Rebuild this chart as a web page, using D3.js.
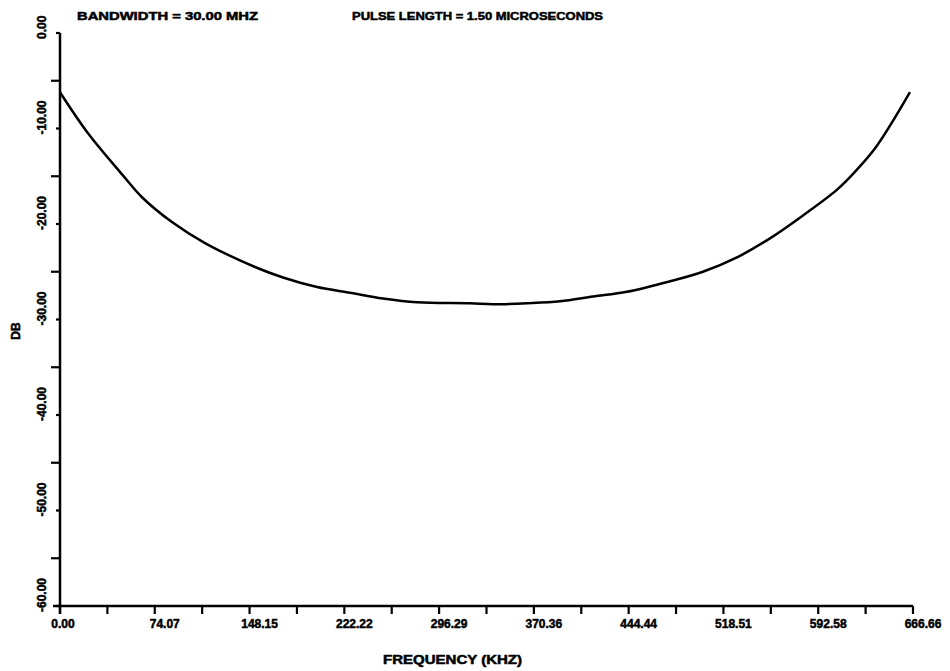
<!DOCTYPE html>
<html>
<head>
<meta charset="utf-8">
<script src="https://cdn.jsdelivr.net/npm/d3@7"></script>
<style>
  body { margin: 0; background: #fff; }
  text { font-family: "Liberation Sans", Arial, sans-serif; font-weight: bold; fill: #000; stroke: #000; stroke-width: 0.5px; }
</style>
</head>
<body>
<script>
const width = 950;
const height = 671;
const margin = {top: 33, right: 37, bottom: 65, left: 60};

// frequency (kHz) and level (dB)
const freq = [0, 21.9, 48.5, 64.1, 87.5, 113.3, 152.4, 174.3, 200.9, 226.6, 252.4, 279.0,
  320.4, 338.4, 365.0, 390.8, 416.6, 443.1, 476.8, 502.5, 529.1, 554.9, 580.7, 607.3, 622.9, 638.5, 664.3];
const db = [-6.2, -10.5, -14.8, -17.2, -19.8, -22.0, -24.5, -25.6, -26.6, -27.2, -27.8, -28.2,
  -28.3, -28.4, -28.3, -28.1, -27.6, -27.1, -26.0, -25.0, -23.5, -21.5, -19.1, -16.4, -14.3, -11.8, -6.2];

const xTicks = [0, 37.04, 74.07, 111.11, 148.15, 185.18, 222.22, 259.26, 296.29, 333.33,
  370.36, 407.40, 444.44, 481.47, 518.51, 555.55, 592.58, 629.62, 666.66];
const xLabels = ["0.00", "74.07", "148.15", "222.22", "296.29", "370.36", "444.44", "518.51", "592.58", "666.66"];
const yTicks = [0, -5, -10, -15, -20, -25, -30, -35, -40, -45, -50, -55, -60];
const yLabels = ["0.00", "-10.00", "-20.00", "-30.00", "-40.00", "-50.00", "-60.00"];

const svg = d3.select("body").append("svg")
  .attr("width", width)
  .attr("height", height);

const x = d3.scaleLinear().domain([0, 666.66]).range([margin.left, width - margin.right]);
const y = d3.scaleLinear().domain([-60, 0]).range([height - margin.bottom, margin.top]);

// x axis: ticks every 37.04, labels on every other one
svg.append("line")
  .attr("x1", x(0) - 7).attr("x2", x(666.66))
  .attr("y1", y(-60)).attr("y2", y(-60))
  .attr("stroke", "#000").attr("stroke-width", 2.5);

svg.append("g").selectAll("line")
  .data(xTicks)
  .enter().append("line")
  .attr("x1", d => x(d)).attr("x2", d => x(d))
  .attr("y1", y(-60)).attr("y2", y(-60) + 8)
  .attr("stroke", "#000").attr("stroke-width", 2.2);

svg.append("g").selectAll("text")
  .data(xLabels)
  .enter().append("text")
  .attr("x", (d, i) => x(xTicks[i * 2]) + (i === 0 ? 3 : 10))
  .attr("y", y(-60) + 22)
  .attr("text-anchor", "middle")
  .style("font-size", "12px")
  .text(d => d);

// y axis: ticks every 5 dB, labels every 10 dB
svg.append("line")
  .attr("x1", x(0)).attr("x2", x(0))
  .attr("y1", y(0)).attr("y2", y(-60) + 8)
  .attr("stroke", "#000").attr("stroke-width", 2.5);

svg.append("g").selectAll("line")
  .data(yTicks)
  .enter().append("line")
  .attr("x1", (d, i) => x(0) - (i % 2 === 0 ? 4 : 9)).attr("x2", x(0))
  .attr("y1", d => y(d)).attr("y2", d => y(d))
  .attr("stroke", "#000").attr("stroke-width", 2.2);

svg.append("g").selectAll("text")
  .data(yLabels)
  .enter().append("text")
  .attr("transform", (d, i) => `translate(46,${y(yTicks[i * 2]) + 6}) rotate(-90)`)
  .attr("text-anchor", "start")
  .style("font-size", "12px")
  .text(d => d);

// axis titles
svg.append("text")
  .attr("transform", "translate(20,331) rotate(-90)")
  .attr("text-anchor", "middle")
  .style("font-size", "12px")
  .text("DB");

svg.append("text")
  .attr("x", 383).attr("y", 664)
  .attr("textLength", 139).attr("lengthAdjust", "spacingAndGlyphs")
  .style("font-size", "12px")
  .text("FREQUENCY  (KHZ)");

// header
svg.append("text")
  .attr("x", 77).attr("y", 20)
  .attr("textLength", 181).attr("lengthAdjust", "spacingAndGlyphs")
  .style("font-size", "11px")
  .text("BANDWIDTH  =  30.00 MHZ");

svg.append("text")
  .attr("x", 352).attr("y", 20)
  .attr("textLength", 251).attr("lengthAdjust", "spacingAndGlyphs")
  .style("font-size", "11px")
  .text("PULSE LENGTH  =  1.50 MICROSECONDS");

// response curve
const line = d3.line()
  .x((d, i) => x(freq[i]))
  .y(d => y(d))
  .curve(d3.curveCatmullRom.alpha(0.5));

svg.append("path")
  .datum(db)
  .attr("d", line)
  .attr("fill", "none")
  .attr("stroke", "#000")
  .attr("stroke-width", 2.5);
</script>
</body>
</html>
